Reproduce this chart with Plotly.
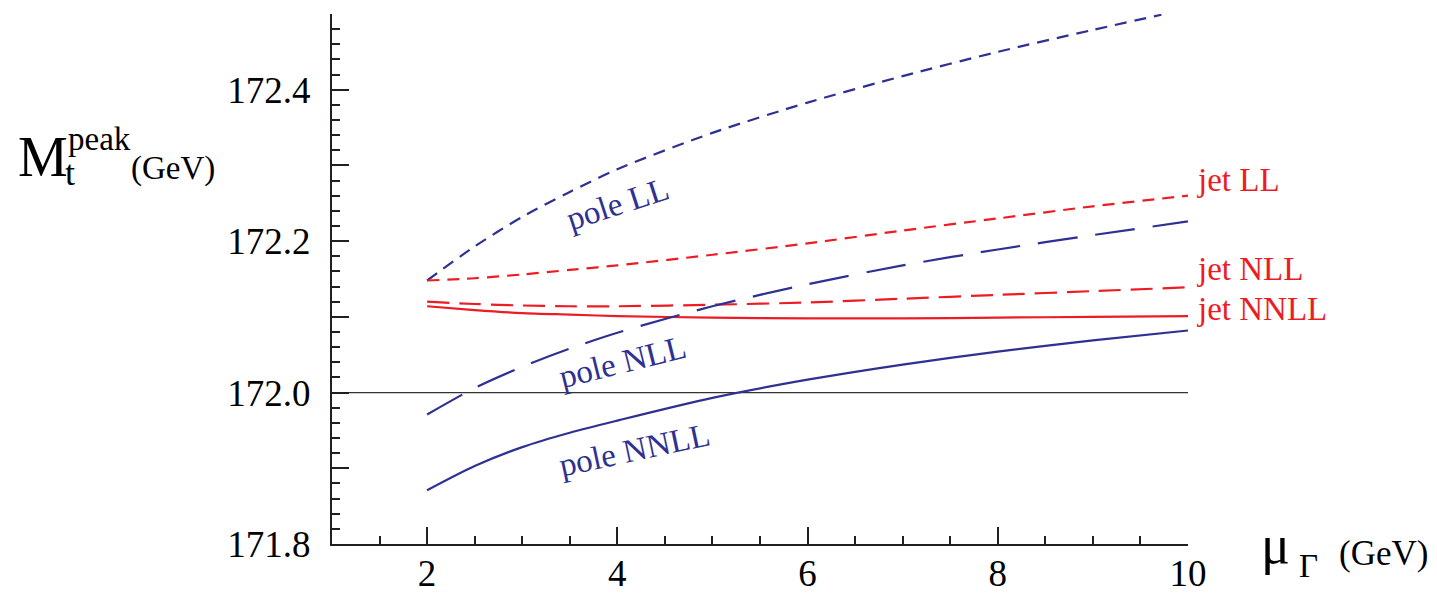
import plotly.graph_objects as go

# ---------------- data ----------------
mu_pole_ll = [2, 2.5, 3, 3.5, 4, 5, 6, 7, 8, 9, 9.72]
pole_ll = [172.148, 172.193, 172.232, 172.265, 172.295, 172.343, 172.383,
           172.418, 172.450, 172.479, 172.499]

mu = [2, 2.5, 3, 3.5, 4, 5, 6, 7, 8, 9, 10]
jet_ll = [172.148, 172.151, 172.156, 172.162, 172.168, 172.182, 172.197,
          172.214, 172.230, 172.246, 172.260]
jet_nll = [172.120, 172.117, 172.115, 172.114, 172.114, 172.116, 172.119,
           172.124, 172.129, 172.134, 172.139]
jet_nnll = [172.114, 172.109, 172.105, 172.103, 172.101, 172.099, 172.098,
            172.098, 172.099, 172.100, 172.101]
pole_nll = [171.971, 172.006, 172.034, 172.058, 172.079, 172.114, 172.143,
            172.168, 172.189, 172.208, 172.226]
pole_nnll = [171.871, 171.903, 171.928, 171.947, 171.963, 171.993, 172.017,
             172.037, 172.054, 172.069, 172.082]

reference_mass = 172.0

x_tickvals = [2, 4, 6, 8, 10]
x_ticktext = ["2", "4", "6", "8", "10"]
y_tickvals = [171.8, 171.9, 172.0, 172.1, 172.2, 172.3, 172.4, 172.5]
y_ticktext = ["171.8", "", "172.0", "", "172.2", "", "172.4", ""]

label_pole_ll = "pole LL"
label_pole_nll = "pole NLL"
label_pole_nnll = "pole NNLL"
label_jet_ll = "jet LL"
label_jet_nll = "jet NLL"
label_jet_nnll = "jet NNLL"

# ---------------- style ----------------
BLUE = "#2e3192"
RED = "#ed1c24"
AX = "#231f20"
FONT = "Liberation Serif, Times New Roman, serif"
W, H = 1437, 595
ML, MR, MT, MB = 332, 249, 14, 51
PW, PH = W - ML - MR, H - MT - MB


def px(xp):
    return (xp - ML) / PW


def py(yp):
    return (H - MB - yp) / PH


fig = go.Figure()


def add_line(x, y, color, dash):
    fig.add_trace(go.Scatter(x=x, y=y, mode="lines",
                             line=dict(color=color, width=2.2, dash=dash,
                                       shape="spline", smoothing=0.8),
                             hoverinfo="skip", showlegend=False))


add_line(mu_pole_ll, pole_ll, BLUE, "12px,8px")
add_line(mu, jet_ll, RED, "12px,8px")
add_line(mu, jet_nll, RED, "22px,10px")
add_line(mu, jet_nnll, RED, "solid")
add_line(mu, pole_nll, BLUE, "40px,18px")
add_line(mu, pole_nnll, BLUE, "solid")

fig.add_shape(type="line", xref="x", yref="y", x0=1, x1=10,
              y0=reference_mass, y1=reference_mass,
              line=dict(color="#333333", width=1.2), layer="below")

ann = []


def text(xp, yp, s, size, color="black", angle=0, xanchor="center"):
    ann.append(dict(x=px(xp), y=py(yp), xref="paper", yref="paper", text=s,
                    showarrow=False, textangle=angle, xanchor=xanchor,
                    yanchor="middle",
                    font=dict(family=FONT, size=size, color=color)))


# curve labels
text(617, 204, label_pole_ll, 33, BLUE, angle=-18)
text(622, 362, label_pole_nll, 33, BLUE, angle=-14)
text(634, 450, label_pole_nnll, 33, BLUE, angle=-12)
text(1195, 180, label_jet_ll, 33, RED, xanchor="left")
text(1195, 269, label_jet_nll, 33, RED, xanchor="left")
text(1195, 309, label_jet_nnll, 33, RED, xanchor="left")

# y-axis title pieces
text(16, 157, "M", 56, xanchor="left")
text(66, 139, "peak", 33, xanchor="left")
text(63, 173, "t", 36, xanchor="left")
text(129, 168, "(GeV)", 33, xanchor="left")

# x-axis title pieces
text(1259, 545, "\u03bc", 54, xanchor="left")
text(1297, 566, "\u0393", 33, xanchor="left")
text(1337, 553, "(GeV)", 35, xanchor="left")

fig.update_layout(
    width=W, height=H,
    margin=dict(l=ML, r=MR, t=MT, b=MB, autoexpand=False),
    paper_bgcolor="white", plot_bgcolor="white",
    showlegend=False,
    annotations=ann,
    font=dict(family=FONT, color="black"),
    xaxis=dict(range=[1, 10], showgrid=False, zeroline=False,
               showline=True, linecolor=AX, linewidth=2,
               ticks="inside", ticklen=17, tickwidth=2, tickcolor=AX,
               tickmode="array", tickvals=x_tickvals, ticktext=x_ticktext,
               tickfont=dict(family=FONT, size=37, color="black"),
               ticklabelstandoff=-4,
               minor=dict(tick0=1, dtick=0.5, ticks="inside", ticklen=8,
                          tickwidth=2, tickcolor=AX, showgrid=False),
               automargin=False, fixedrange=True),
    yaxis=dict(range=[171.8, 172.5], showgrid=False, zeroline=False,
               showline=True, linecolor=AX, linewidth=2,
               ticks="inside", ticklen=17, tickwidth=2, tickcolor=AX,
               tickmode="array", tickvals=y_tickvals, ticktext=y_ticktext,
               tickfont=dict(family=FONT, size=37, color="black"),
               ticklabelstandoff=12,
               minor=dict(tick0=171.8, dtick=0.02, ticks="inside", ticklen=8,
                          tickwidth=2, tickcolor=AX, showgrid=False),
               automargin=False, fixedrange=True),
)

fig.write_html("out.html", config={"displayModeBar": False})
